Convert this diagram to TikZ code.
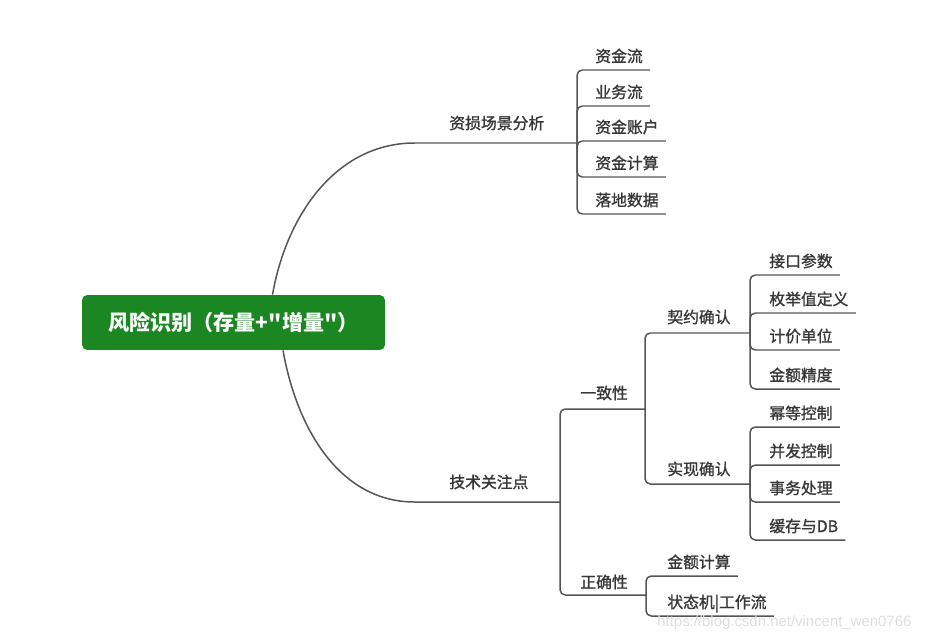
\documentclass[tikz,border=0pt]{standalone}
\usepackage{fontspec}
\newfontfamily\cjk{Noto Sans CJK SC}[FakeBold=1.2]
\newfontfamily\cjkroot{Noto Sans CJK SC}
\newfontfamily\urlfont{Liberation Sans}
\usetikzlibrary{calc}
\definecolor{rootgreen}{RGB}{26,135,34}
\definecolor{linegray}{RGB}{85,85,85}
\definecolor{textgray}{RGB}{55,55,55}
\definecolor{markgray}{RGB}{222,222,222}

\begin{document}
\begin{tikzpicture}[x=0.02cm,y=-0.02cm,
    link/.style={draw=linegray,line width=0.85pt,rounded corners=3pt},
    topic/.style={anchor=base west,inner sep=0pt,text=textgray,
      font=\cjk\fontsize{9}{11}\selectfont},
    rootbox/.style={fill=rootgreen,rounded corners=3pt,minimum width=6.06cm,
      minimum height=1.1cm,text=white,font=\cjkroot\bfseries\fontsize{12}{14}\selectfont}]
  \useasboundingbox (0,0) rectangle (937,639);
  \node[rootbox] (root) at (233.5,322.5) {风险识别（存量+"增量"）};

  \coordinate (j-loss) at (577,143);
  \coordinate (j-tech) at (560,502);
  \coordinate (j-cons) at (645,409);
  \coordinate (j-corr) at (646,595);
  \coordinate (j-contract) at (750,333);
  \coordinate (j-impl) at (750,484);

  \draw[link] ($(root.north)+(39,0)$) to[out=80,in=180] (420,143) -- (j-loss);
  \draw[link] ($(root.south)+(49.5,0)$) to[out=-80,in=180] (420,502) -- (j-tech);
  \node[topic] (loss) at (449,129) {资损场景分析};
  \node[topic] (tech) at (449,488) {技术关注点};

  \node[topic] (flow) at (595,62) {资金流};
  \node[topic] (biz) at (595,98) {业务流};
  \node[topic] (acct) at (595,133) {资金账户};
  \node[topic] (count) at (595,169) {资金计算};
  \node[topic] (land) at (595,206) {落地数据};
  \foreach \n in {flow,biz,acct,count,land}
    \draw[link] (j-loss) |- ($(\n.base east)+(7,8)$);

  \node[topic] (cons) at (580,399) {一致性};
  \node[topic] (corr) at (580,588) {正确性};
  \draw[link] (j-tech) |- (j-cons);
  \draw[link] (j-tech) |- (j-corr);

  \node[topic] (contract) at (667,323) {契约确认};
  \node[topic] (impl) at (667,475) {实现确认};
  \draw[link] (j-cons) |- (j-contract);
  \draw[link] (j-cons) |- (j-impl);

  \node[topic] (api) at (769,267) {接口参数};
  \node[topic] (enum) at (769,305) {枚举值定义};
  \node[topic] (unit) at (769,342) {计价单位};
  \node[topic] (prec) at (769,381) {金额精度};
  \foreach \n in {api,enum,unit,prec}
    \draw[link] (j-contract) |- ($(\n.base east)+(7,8)$);

  \node[topic] (idem) at (769,419) {幂等控制};
  \node[topic] (conc) at (769,457) {并发控制};
  \node[topic] (trans) at (769,494) {事务处理};
  \node[topic] (cache) at (769,532) {缓存与DB};
  \foreach \n in {idem,conc,trans,cache}
    \draw[link] (j-impl) |- ($(\n.base east)+(7,8)$);

  \node[topic] (amount) at (667,568) {金额计算};
  \node[topic] (state) at (667,608) {状态机|工作流};
  \foreach \n in {amount,state}
    \draw[link] (j-corr) |- ($(\n.base east)+(7,8)$);

  \node[anchor=base west,inner sep=0pt,text=markgray,
    font=\urlfont\fontsize{8.5}{10}\selectfont] (wm) at (657,626)
    {https://blog.csdn.net/vincent\_wen0766};
\end{tikzpicture}
\end{document}
